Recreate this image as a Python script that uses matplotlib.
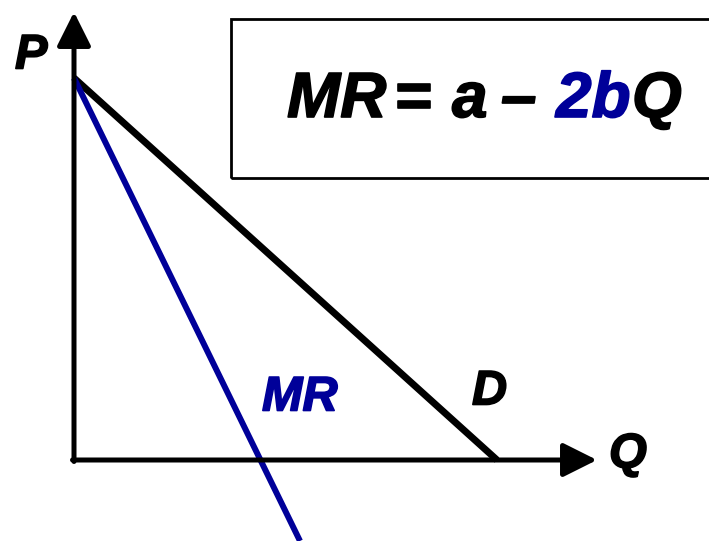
import matplotlib.pyplot as plt
import matplotlib.patheffects as pe

# данные: одна единица = один пиксель картинки, начало координат в углу осей
demand_q = [0, 423]
demand_p = [382, 0]
mr_q = [0, 226]
mr_p = [382, -81]

axis_q_max = 523
axis_p_max = 448

formula_parts = ["MR", "=", "a", "\u2013", "2b", "Q"]
formula_colors = ["black", "black", "black", "black", "#000099", "black"]
formula_x = [287, 394, 452, 501, 556, 632]  # левые края кусков, пиксели

blue = "#000099"
font = dict(family="Liberation Sans", weight="bold", style="italic")


def bold_fx(col):
    return [pe.withStroke(linewidth=1.2, foreground=col)]


fig = plt.figure(figsize=(7.09, 5.41), dpi=100)
ax = fig.add_axes([0, 0, 1, 1])
ax.set_xlim(-74, 635)
ax.set_ylim(-81, 460)
ax.axis("off")

# оси со стрелками
arrow = dict(arrowstyle="-|>,head_length=0.4,head_width=0.2", lw=3.6,
             color="black", mutation_scale=52, shrinkA=0, shrinkB=0)
ax.annotate("", xy=(0, axis_p_max), xytext=(0, -1.5), arrowprops=arrow)
ax.annotate("", xy=(axis_q_max, 0), xytext=(-1.5, 0), arrowprops=arrow)

# спрос и предельная выручка
ax.plot(demand_q, demand_p, color="black", lw=5.0, solid_capstyle="butt")
ax.plot(mr_q, mr_p, color=blue, lw=4.3, solid_capstyle="butt")

# подписи
ax.text(-59, 404, "P", fontsize=35, ha="left", va="center",
        path_effects=bold_fx("black"), **font)
ax.text(535, 5, "Q", fontsize=35, ha="left", va="center",
        path_effects=bold_fx("black"), **font)
ax.text(398, 68, "D", fontsize=35, ha="left", va="center",
        path_effects=bold_fx("black"), **font)
ax.text(188, 62, "MR", fontsize=35, ha="left", va="center", color=blue,
        path_effects=bold_fx(blue), **font)

# рамка с формулой
box = plt.Rectangle((231 / 709, 1 - 178 / 541), 500 / 709, 159 / 541,
                    transform=fig.transFigure, fill=False, lw=2.0,
                    edgecolor="black")
fig.patches.append(box)

for part, col, x in zip(formula_parts, formula_colors, formula_x):
    fig.text(x / 709, 1 - 100 / 541, part, fontsize=46, color=col,
             ha="left", va="center", path_effects=bold_fx(col), **font)

fig.savefig("out.png", dpi=100)
